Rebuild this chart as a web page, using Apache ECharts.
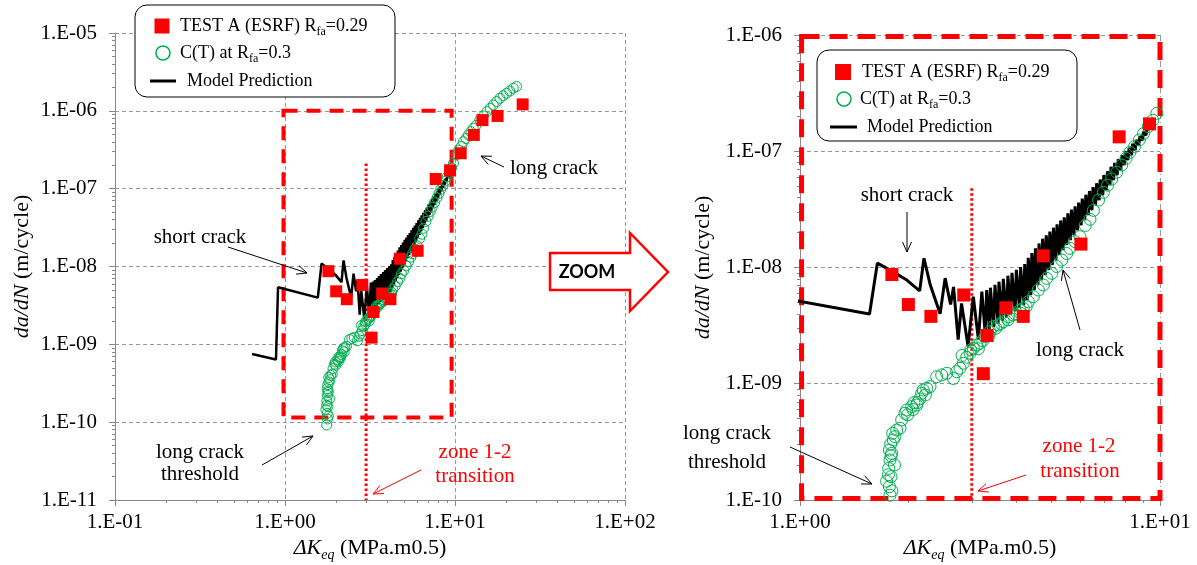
<!DOCTYPE html>
<html>
<head>
<meta charset="utf-8">
<script src="https://cdn.jsdelivr.net/npm/echarts/dist/echarts.min.js"></script>
<style>
html, body { margin: 0; padding: 0; background: #fff; }
#main { width: 1197px; height: 565px; }
</style>
</head>
<body>
<div id="main"></div>
<script>
// test A (ESRF) points, R = 0.29
var testK = [1.80, 2.0, 2.31, 2.85, 3.23, 3.31, 3.73, 4.17, 4.74, 6.03, 7.7, 9.35, 10.8, 12.9, 14.5, 17.8, 25];
var testRate = [8.7e-9, 4.8e-9, 3.8e-9, 5.8e-9, 1.22e-9, 2.6e-9, 4.5e-9, 3.8e-9, 1.26e-8, 1.59e-8, 1.33e-7, 1.72e-7, 2.85e-7, 4.9e-7, 7.6e-7, 8.6e-7, 1.21e-6];

// C(T) long crack data, R = 0.3
var ctK = [1.76, 1.778, 1.80, 1.771, 1.74, 1.790, 1.76, 1.763, 1.83, 1.778, 1.79, 1.797, 1.771, 1.786, 1.816, 1.836, 1.809, 1.856, 1.896, 1.916,
	1.99, 1.957, 1.978, 2.06, 2.043, 2.109, 2.073, 2.12, 2.15, 2.23, 2.178, 2.201, 2.249, 2.297, 2.397, 2.475, 2.556, 2.667, 2.724, 2.783,
	2.82, 2.843, 2.904, 2.967, 2.98, 3.03, 3.095, 3.13, 3.162, 3.22, 3.265, 3.35, 3.372, 3.443, 3.5, 3.555, 3.62, 3.671, 3.78, 3.791,
	3.914, 3.95, 4.084, 4.1, 4.172, 4.25, 4.308, 4.448, 4.592, 4.742, 4.845, 5.003, 5.164, 5.333, 5.505, 5.623, 5.806, 5.995, 6.2, 6.39,
	6.53, 6.75, 6.96, 7.15, 7.34, 7.58, 7.83, 8.05, 8.25, 8.5, 8.76, 9.0, 9.28, 9.55, 9.8, 10.2, 10.5, 10.9, 11.2, 11.6,
	12.0, 12.4, 12.8, 13.3, 14.0, 14.7, 15.4, 16.1, 16.8, 17.6, 18.4, 19.2, 20.1, 21.0, 22.0, 23.0];
var ctRate = [9.2e-11, 1.10e-10, 1.2e-10, 1.30e-10, 1.45e-10, 1.59e-10, 1.65e-10, 1.87e-10, 2.0e-10, 2.21e-10, 2.4e-10, 2.52e-10, 2.69e-10, 3.03e-10, 3.28e-10, 3.51e-10, 3.75e-10, 4.0e-10, 4.14e-10, 4.88e-10,
	5.4e-10, 5.57e-10, 5.94e-10, 6.0e-10, 6.35e-10, 6.56e-10, 6.87e-10, 6.9e-10, 7.4e-10, 8.0e-10, 8.28e-10, 8.83e-10, 9.14e-10, 9.44e-10, 1.15e-9, 1.19e-9, 1.23e-9, 1.11e-9, 1.27e-9, 1.36e-9,
	1.75e-9, 1.50e-9, 1.69e-9, 1.83e-9, 1.95e-9, 2.02e-9, 2.15e-9, 2.0e-9, 2.23e-9, 2.35e-9, 2.54e-9, 2.6e-9, 2.81e-9, 3.10e-9, 3.0e-9, 3.20e-9, 3.3e-9, 3.42e-9, 3.55e-9, 3.77e-9,
	3.90e-9, 4.0e-9, 4.31e-9, 4.05e-9, 4.46e-9, 4.6e-9, 5.08e-9, 5.61e-9, 6.40e-9, 7.07e-9, 8.07e-9, 8.91e-9, 1.02e-8, 1.16e-8, 1.32e-8, 1.46e-8, 1.67e-8, 1.84e-8, 2.3e-8, 2.6e-8,
	3.1e-8, 3.8e-8, 4.43e-8, 5.1e-8, 5.77e-8, 6.6e-8, 7.6e-8, 8.7e-8, 9.8e-8, 1.1e-7, 1.25e-7, 1.42e-7, 1.63e-7, 1.85e-7, 2.12e-7, 2.7e-7, 3.13e-7, 3.5e-7, 4.01e-7, 4.4e-7,
	4.89e-7, 5.4e-7, 5.96e-7, 6.5e-7, 7.62e-7, 8.6e-7, 9.75e-7, 1.08e-6, 1.19e-6, 1.32e-6, 1.45e-6, 1.56e-6, 1.68e-6, 1.8e-6, 1.95e-6, 2.05e-6];

// model prediction (sawtooth)
var modelK = [0.64, 0.885, 0.91, 1.56, 1.64, 1.78, 1.98, 2.15, 2.21, 2.30, 2.45, 2.53, 2.62, 2.67, 2.75, 2.81, 2.93, 3.03, 3.13, 3.20, 3.27, 3.30,
	3.36, 3.38, 3.45, 3.48, 3.55, 3.57, 3.65, 3.67, 3.75, 3.78, 3.85, 3.88, 3.96, 3.99, 4.07, 4.10, 4.18, 4.21,
	4.276, 4.305, 4.375, 4.406, 4.477, 4.508, 4.581, 4.613, 4.688, 4.721, 4.797, 4.831, 4.909, 4.943, 5.023, 5.058, 5.140, 5.176,
	5.260, 5.297, 5.383, 5.420, 5.508, 5.546, 5.636, 5.675, 5.768, 5.808, 5.902, 5.943, 6.039, 6.081, 6.180, 6.223, 6.324, 6.368,
	6.471, 6.516, 6.622, 6.668, 6.776, 6.823, 6.934, 6.982, 7.096, 7.145, 7.261, 7.311, 7.430, 7.482, 7.603, 7.656, 7.780, 7.834,
	7.962, 8.017, 8.147, 8.204, 8.337, 8.395, 8.531, 8.590, 8.730, 8.790, 8.933, 8.995, 9.141, 9.204, 9.38];
var modelRate = [7.5e-10, 6.4e-10, 5.4e-9, 3.98e-9, 1.09e-8, 9.5e-9, 7.8e-9, 6.3e-9, 1.2e-8, 7.1e-9, 4.0e-9, 8.1e-9, 4.8e-9, 6.8e-9, 2.4e-9, 4.9e-9, 2.1e-9, 5.6e-9, 2.4e-9, 6.2e-9, 2.7e-9, 6.4e-9,
	2.89e-9, 6.7e-9, 3.08e-9, 7.1e-9, 3.27e-9, 7.55e-9, 3.48e-9, 8.0e-9, 3.71e-9, 8.5e-9, 3.95e-9, 9.0e-9, 4.2e-9, 9.55e-9, 4.48e-9, 1.01e-8, 4.74e-9, 1.07e-8,
	5.24e-9, 1.21e-8, 5.78e-9, 1.33e-8, 6.38e-9, 1.46e-8, 7.05e-9, 1.61e-8, 7.78e-9, 1.77e-8, 8.59e-9, 1.89e-8, 9.48e-9, 2.04e-8, 1.05e-8, 2.2e-8, 1.16e-8, 2.35e-8,
	1.28e-8, 2.54e-8, 1.41e-8, 2.70e-8, 1.56e-8, 2.92e-8, 1.72e-8, 3.15e-8, 1.90e-8, 3.36e-8, 2.09e-8, 3.62e-8, 2.31e-8, 3.91e-8, 2.55e-8, 4.22e-8, 2.82e-8, 4.55e-8,
	3.11e-8, 4.91e-8, 3.44e-8, 5.30e-8, 3.79e-8, 5.71e-8, 4.19e-8, 6.24e-8, 4.62e-8, 6.73e-8, 5.11e-8, 7.35e-8, 5.64e-8, 7.93e-8, 6.22e-8, 8.55e-8, 6.87e-8, 9.23e-8,
	7.59e-8, 9.95e-8, 8.38e-8, 1.07e-7, 9.25e-8, 1.16e-7, 1.02e-7, 1.25e-7, 1.13e-7, 1.35e-7, 1.24e-7, 1.47e-7, 1.37e-7, 1.59e-7, 1.53e-7];

// zoomed box and zone 1-2 transition
var boxLeft = [[0.98, 1e-6], [9.55, 1.15e-10]];
var boxRight = [[1.01, 9.7e-7], [10, 1.03e-10]];
var zoneK = 3.0;

var RED = '#FF0000', GREEN = '#00B050';
var SERIF = '"Liberation Serif", "Times New Roman", serif';

function pairs(a, b) {
	return a.map(function(v, i) { return [v, b[i]]; });
}
function sci(v) {
	var e = Math.round(Math.log10(v));
	var n = Math.abs(e);
	return '1.E' + (e < 0 ? '-' : '+') + (n < 10 ? '0' : '') + n;
}

var mctx = document.createElement('canvas').getContext('2d');
function fontOf(p) {
	return (p.italic ? 'italic ' : '') + (p.bold ? 'bold ' : '') + p.size + 'px ' + (p.family || SERIF);
}
// place text pieces one after the other (for subscripts)
function run(x, y, parts, align) {
	var w = parts.map(function(p) { mctx.font = fontOf(p); return mctx.measureText(p.t).width; });
	var total = w.reduce(function(s, v) { return s + v; }, 0);
	var cx = align === 'center' ? x - total / 2 : x;
	return parts.map(function(p, i) {
		var el = {
			type: 'text', x: cx, y: y + (p.dy || 0), z: 100,
			style: { text: p.t, font: fontOf(p), fill: p.fill || '#000', textAlign: 'left', textVerticalAlign: 'middle' }
		};
		cx += w[i];
		return el;
	});
}
function label(x, y, t, color) {
	return run(x, y, [{ t: t, size: 21, fill: color }], 'center');
}
function arrow(x1, y1, x2, y2, color) {
	var a = Math.atan2(y2 - y1, x2 - x1), h = 11, s = 0.42;
	return [{
		type: 'line', z: 100, shape: { x1: x1, y1: y1, x2: x2, y2: y2 },
		style: { stroke: color, lineWidth: 1 }
	}, {
		type: 'polyline', z: 100,
		shape: { points: [[x2 - h * Math.cos(a - s), y2 - h * Math.sin(a - s)], [x2, y2], [x2 - h * Math.cos(a + s), y2 - h * Math.sin(a + s)]] },
		style: { stroke: color, fill: null, lineWidth: 1 }
	}];
}
function legendBox(x, y, w, h, rows, sq, cSize) {
	var els = [{ type: 'rect', z: 90, shape: { x: x, y: y, width: w, height: h, r: 12 }, style: { fill: '#fff', stroke: '#000', lineWidth: 1 } }];
	els.push({ type: 'rect', z: 100, shape: { x: sq[0] - sq[2] / 2, y: sq[1] - sq[2] / 2, width: sq[2], height: sq[2] }, style: { fill: RED } });
	els.push({ type: 'circle', z: 100, shape: { cx: cSize[0], cy: cSize[1], r: cSize[2] }, style: { fill: null, stroke: GREEN, lineWidth: 1.6 } });
	els.push({ type: 'line', z: 100, shape: { x1: rows.line[0], y1: rows.line[2], x2: rows.line[1], y2: rows.line[2] }, style: { stroke: '#000', lineWidth: 3 } });
	return els
		.concat(run(rows.t1[0], rows.t1[1], [{ t: 'TEST A (ESRF) R', size: 18 }, { t: 'fa', size: 12, dy: 6 }, { t: '=0.29', size: 18 }]))
		.concat(run(rows.t2[0], rows.t2[1], [{ t: 'C(T) at R', size: 18 }, { t: 'fa', size: 12, dy: 6 }, { t: '=0.3', size: 18 }]))
		.concat(run(rows.t3[0], rows.t3[1], [{ t: 'Model Prediction', size: 18 }]));
}

function xAxisOf(grid, min, max, split) {
	return {
		gridIndex: grid, type: 'log', logBase: 10, min: min, max: max, interval: 1,
		axisLine: { show: true, lineStyle: { color: '#888', width: 1 } },
		axisTick: { show: true, length: 6, lineStyle: { color: '#888' } },
		minorTick: { show: true, splitNumber: 9, length: 3, lineStyle: { color: '#888' } },
		axisLabel: { formatter: sci, color: '#000', fontFamily: SERIF, fontSize: 21, margin: 12 },
		splitLine: split
	};
}
function yAxisOf(grid, min, max, gap) {
	return {
		gridIndex: grid, type: 'log', logBase: 10, min: min, max: max, interval: 1,
		axisLine: { show: true, lineStyle: { color: '#888', width: 1 } },
		axisTick: { show: true, length: 6, lineStyle: { color: '#888' } },
		minorTick: { show: true, splitNumber: 9, length: 3, lineStyle: { color: '#888' } },
		axisLabel: { formatter: sci, color: '#000', fontFamily: SERIF, fontSize: 21, margin: 18 },
		splitLine: { show: true, lineStyle: { color: '#999', type: [4, 3] } },
		name: '{i|da/dN} (m/cycle)', nameLocation: 'middle', nameGap: gap, nameRotate: 90,
		nameTextStyle: { color: '#000', fontFamily: SERIF, fontSize: 22, rich: { i: { fontStyle: 'italic', fontFamily: SERIF, fontSize: 22, color: '#000' } } }
	};
}

function seriesFor(idx, box, zoneTop, lineW, cSize, sSize) {
	return [{
		type: 'line', xAxisIndex: idx, yAxisIndex: idx, data: [], clip: false, silent: true,
		markArea: {
			silent: true,
			itemStyle: { color: 'rgba(0,0,0,0)', borderColor: RED, borderWidth: idx ? 5 : 4, borderType: idx ? [18, 10] : [14, 9] },
			data: [[{ coord: box[0] }, { coord: box[1] }]]
		}
	}, {
		type: 'line', xAxisIndex: idx, yAxisIndex: idx, showSymbol: false, silent: true, z: 2,
		lineStyle: { color: RED, type: [2.5, 2.5], width: 3 },
		data: [[zoneK, zoneTop], [zoneK, idx ? 1e-10 : 1e-11]]
	}, {
		name: 'Model Prediction', type: 'line', xAxisIndex: idx, yAxisIndex: idx, showSymbol: false,
		lineStyle: { color: '#000', width: lineW }, data: pairs(modelK, modelRate), z: 3
	}, {
		name: 'C(T) at Rfa=0.3', type: 'scatter', xAxisIndex: idx, yAxisIndex: idx, symbol: 'circle', symbolSize: cSize,
		itemStyle: { color: 'rgba(0,0,0,0)', borderColor: GREEN, borderWidth: 1, opacity: 1 }, data: pairs(ctK, ctRate), z: 4
	}, {
		name: 'TEST A (ESRF) Rfa=0.29', type: 'scatter', xAxisIndex: idx, yAxisIndex: idx, symbol: 'rect', symbolSize: sSize,
		itemStyle: { color: RED, opacity: 1 }, data: pairs(testK, testRate), z: 5
	}];
}

var graphics = []
	.concat(legendBox(135, 5, 260, 92, { t1: [180, 26], t2: [180, 53], t3: [187, 81], line: [150, 176, 81] }, [162, 26, 15], [163, 53, 7]))
	.concat(legendBox(817, 50, 260, 91, { t1: [862, 72], t2: [860, 99], t3: [867, 127], line: [830, 857, 127] }, [843, 72, 16], [844, 99, 7]))
	// left annotations
	.concat(label(200, 237, 'short crack')).concat(arrow(228, 247, 307, 273, '#000'))
	.concat(run(510, 168, [{ t: 'long crack', size: 21 }])).concat(arrow(504, 167, 481, 156, '#000'))
	.concat(label(200, 452, 'long crack')).concat(label(200, 474, 'threshold')).concat(arrow(262, 465, 313, 436, '#000'))
	.concat(label(475, 452, 'zone 1-2', RED)).concat(label(475, 476, 'transition', RED)).concat(arrow(421, 470, 373, 494, RED))
	// right annotations
	.concat(label(907, 195, 'short crack')).concat(arrow(907, 212, 907, 252, '#000'))
	.concat(label(1080, 350, 'long crack')).concat(arrow(1080, 330, 1063, 270, '#000'))
	.concat(label(727, 433, 'long crack')).concat(label(727, 462, 'threshold')).concat(arrow(790, 447, 872, 484, '#000'))
	.concat(label(1079, 446, 'zone 1-2', RED)).concat(label(1080, 471, 'transition', RED)).concat(arrow(1026, 475, 978, 491, RED))
	// x axis titles
	.concat(run(370, 548, [{ t: 'ΔK', size: 22, italic: true }, { t: 'eq', size: 14, italic: true, dy: 7 }, { t: ' (MPa.m0.5)', size: 22 }], 'center'))
	.concat(run(980, 548, [{ t: 'ΔK', size: 22, italic: true }, { t: 'eq', size: 14, italic: true, dy: 7 }, { t: ' (MPa.m0.5)', size: 22 }], 'center'))
	// zoom arrow
	.concat([{
		type: 'polygon', z: 95,
		shape: { points: [[550, 253], [630, 253], [630, 233], [668, 272], [630, 311], [630, 290], [550, 290]] },
		style: { fill: '#fff', stroke: RED, lineWidth: 2.5 }
	}])
	.concat(run(587, 272, [{ t: 'ZOOM', size: 18, bold: true, family: 'Lato, "DejaVu Sans", sans-serif' }], 'center'));

var myChart = echarts.init(document.getElementById('main'));
var option = {
	animation: false,
	backgroundColor: '#fff',
	grid: [
		{ left: 115, top: 33, width: 510, height: 467 },
		{ left: 800, top: 35, width: 360, height: 465 }
	],
	xAxis: [
		xAxisOf(0, 0.1, 100, { show: true, lineStyle: { color: '#999', type: [4, 3] } }),
		xAxisOf(1, 1, 10, { show: true, lineStyle: { color: '#999', type: [6, 3, 1, 3] } })
	],
	yAxis: [
		yAxisOf(0, 1e-11, 1e-5, 82),
		yAxisOf(1, 1e-10, 1e-6, 86)
	],
	series: seriesFor(0, boxLeft, 2.1e-7, 2.5, 10, 12).concat(seriesFor(1, boxRight, 4.8e-8, 3, 12, 13)),
	graphic: graphics
};
myChart.setOption(option);
</script>
</body>
</html>
